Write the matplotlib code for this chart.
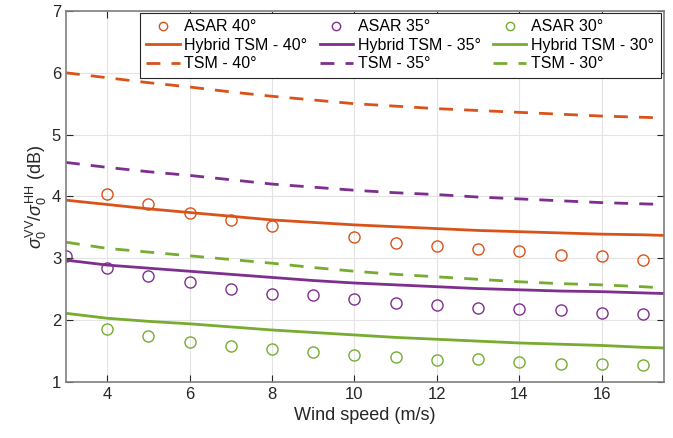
import matplotlib
matplotlib.use("Agg")
import matplotlib.pyplot as plt

plt.rcParams['font.family'] = ['Liberation Sans', 'DejaVu Sans']
plt.rcParams['mathtext.fontset'] = 'custom'
plt.rcParams['mathtext.rm'] = 'Liberation Sans'
plt.rcParams['mathtext.it'] = 'Liberation Sans:italic'

# ASAR measurements
asar_x40 = [4, 5, 6, 7, 8, 10, 11, 12, 13, 14, 15, 16, 17]
asar_40 = [4.04, 3.88, 3.74, 3.62, 3.52, 3.35, 3.25, 3.20, 3.15, 3.11, 3.05, 3.03, 2.97]
asar_x35 = [3, 4, 5, 6, 7, 8, 9, 10, 11, 12, 13, 14, 15, 16, 17]
asar_35 = [3.03, 2.85, 2.72, 2.62, 2.51, 2.43, 2.41, 2.34, 2.28, 2.24, 2.20, 2.18, 2.16, 2.11, 2.10]
asar_x30 = [4, 5, 6, 7, 8, 9, 10, 11, 12, 13, 14, 15, 16, 17]
asar_30 = [1.86, 1.74, 1.65, 1.58, 1.53, 1.48, 1.43, 1.41, 1.36, 1.37, 1.32, 1.29, 1.29, 1.28]

# Model curves
wind = [3, 4, 5, 6, 7, 8, 9, 10, 11, 12, 13, 14, 15, 16, 17, 17.5]
hybrid_40 = [3.94, 3.87, 3.80, 3.74, 3.68, 3.62, 3.58, 3.54, 3.51, 3.48, 3.45, 3.43, 3.41, 3.39, 3.38, 3.37]
hybrid_35 = [2.97, 2.89, 2.84, 2.79, 2.74, 2.69, 2.64, 2.60, 2.57, 2.54, 2.51, 2.49, 2.47, 2.46, 2.44, 2.43]
hybrid_30 = [2.11, 2.03, 1.98, 1.94, 1.89, 1.84, 1.80, 1.76, 1.72, 1.69, 1.66, 1.63, 1.61, 1.59, 1.56, 1.55]
tsm_40 = [6.00, 5.92, 5.84, 5.77, 5.69, 5.62, 5.56, 5.50, 5.46, 5.42, 5.39, 5.36, 5.33, 5.30, 5.28, 5.27]
tsm_35 = [4.55, 4.47, 4.40, 4.34, 4.27, 4.20, 4.15, 4.10, 4.06, 4.03, 3.99, 3.96, 3.93, 3.90, 3.88, 3.87]
tsm_30 = [3.26, 3.16, 3.10, 3.04, 2.98, 2.92, 2.85, 2.79, 2.74, 2.70, 2.66, 2.62, 2.59, 2.57, 2.54, 2.52]

c40, c35, c30 = '#D95319', '#7E2F8E', '#77AC30'

fig = plt.figure(figsize=(6.73, 4.38), dpi=100)
ax = fig.add_axes([0.098, 0.128, 0.888, 0.847])

ms = 8
h = {}
h['a40'], = ax.plot(asar_x40, asar_40, 'o', mfc='none', mec=c40, ms=ms, mew=1.0, label='ASAR 40°')
h['a35'], = ax.plot(asar_x35, asar_35, 'o', mfc='none', mec=c35, ms=ms, mew=1.0, label='ASAR 35°')
h['a30'], = ax.plot(asar_x30, asar_30, 'o', mfc='none', mec=c30, ms=ms, mew=1.0, label='ASAR 30°')
h['h40'], = ax.plot(wind, hybrid_40, '-', color=c40, lw=2, label='Hybrid TSM - 40°')
h['h35'], = ax.plot(wind, hybrid_35, '-', color=c35, lw=2, label='Hybrid TSM - 35°')
h['h30'], = ax.plot(wind, hybrid_30, '-', color=c30, lw=2, label='Hybrid TSM - 30°')
h['t40'], = ax.plot(wind, tsm_40, '--', color=c40, lw=2, dashes=(5, 4), label='TSM - 40°')
h['t35'], = ax.plot(wind, tsm_35, '--', color=c35, lw=2, dashes=(5, 4), label='TSM - 35°')
h['t30'], = ax.plot(wind, tsm_30, '--', color=c30, lw=2, dashes=(5, 4), label='TSM - 30°')

ax.set_xlim(3, 17.5)
ax.set_ylim(1, 7)
ax.set_xticks([4, 6, 8, 10, 12, 14, 16])
ax.set_yticks([1, 2, 3, 4, 5, 6, 7])
ax.grid(True, color='#e3e3e3', lw=0.8)
ax.set_axisbelow(True)
ax.tick_params(direction='in', length=5, labelsize=12, colors='#262626', top=True, right=True)
for s in ax.spines.values():
    s.set_color('#7f7f7f')
    s.set_linewidth(1.2)

ax.set_xlabel('Wind speed (m/s)', fontsize=13, color='#262626', labelpad=4)
ax.set_ylabel(r'$\sigma_0^{\mathrm{VV}}/\sigma_0^{\mathrm{HH}}$ (dB)', fontsize=13, color='#262626', labelpad=2)

order = ['a40', 'h40', 't40', 'a35', 'h35', 't35', 'a30', 'h30', 't30']
leg = ax.legend([h[k] for k in order], [h[k].get_label() for k in order],
                ncol=3, loc='upper right', bbox_to_anchor=(0.995, 0.995),
                fontsize=11.5, frameon=True, fancybox=False, framealpha=1,
                edgecolor='#262626', handlelength=2.1, handletextpad=0.3,
                columnspacing=0.75, borderpad=0.4, labelspacing=0.22, borderaxespad=0,
                markerscale=0.75)
leg.get_frame().set_linewidth(0.8)

fig.savefig('out.png', dpi=100)
